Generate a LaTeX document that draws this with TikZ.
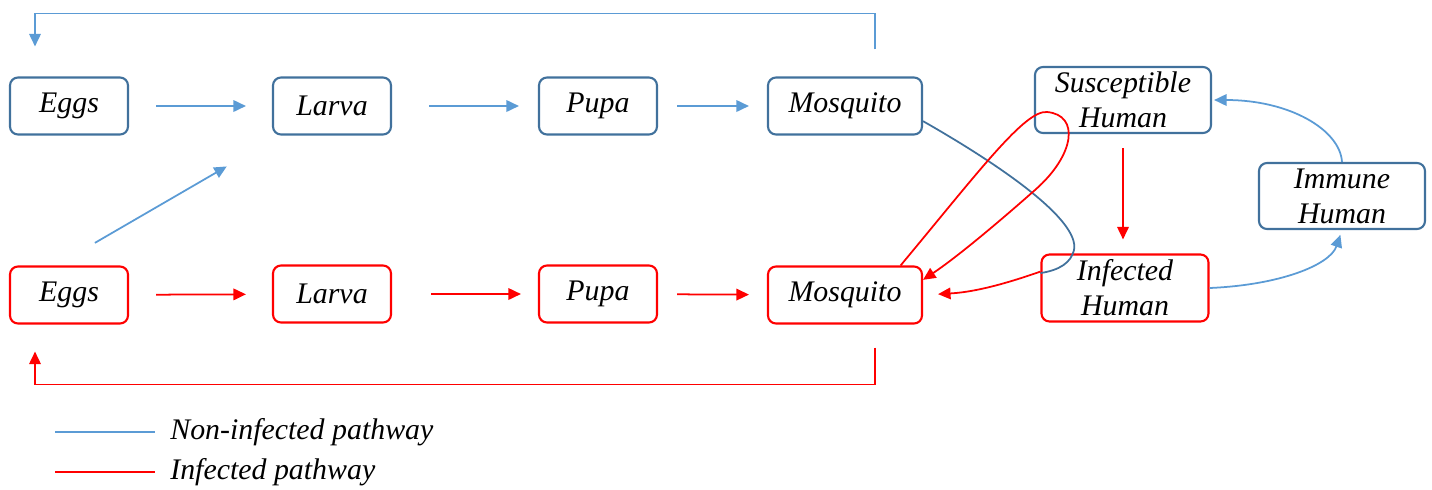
\documentclass[tikz,border=0pt]{standalone}
\usepackage{fontspec}
\setmainfont{Liberation Serif}
\usetikzlibrary{arrows.meta}
\definecolor{boxblue}{RGB}{65,113,156}
\definecolor{lineblue}{RGB}{91,155,213}
\definecolor{infred}{RGB}{255,0,0}
\begin{document}
\begin{tikzpicture}
    \tikzset{stage/.style = {draw=boxblue,line width=1.2pt,rounded corners=0.16cm,minimum width=2.36cm,minimum height=1.14cm,inner sep=0pt,align=center,font=\fontsize{17}{20}\selectfont\itshape},
    infstage/.style = {stage,draw=infred},
    flow/.style = {draw=lineblue,line width=1pt,-{Triangle[length=0.25cm,width=0.23cm]}},
    infflow/.style = {flow,draw=infred},
    legendtext/.style = {anchor=west,inner sep=0pt,font=\fontsize{17}{20}\selectfont\itshape}}
    \useasboundingbox (0,0) rectangle (28.64,-9.78);
    \def\yt{-2.12}
    \def\yb{-5.9}
     \node[stage] (ET) at (1.38,\yt) {Eggs};
     \node[stage] (LT) at (6.64,\yt) {Larva};
     \node[stage] (PT) at (11.96,\yt) {Pupa};
     \node[stage,minimum width=3.08cm] (MT) at (16.9,\yt) {Mosquito};
     \node[infstage] (EB) at (1.38,\yb) {Eggs};
     \node[infstage] (LB) at (6.64,\yb+0.02) {Larva};
     \node[infstage] (PB) at (11.96,\yb+0.02) {Pupa};
     \node[infstage,minimum width=3.08cm] (MB) at (16.9,\yb) {Mosquito};

     \node[stage,minimum width=3.52cm,minimum height=1.32cm] (SH) at (22.46,-2.0) {Susceptible\\Human};
     \node[stage,minimum width=3.32cm,minimum height=1.32cm] (IM) at (26.84,-3.92) {Immune\\Human};
     \node[infstage,minimum width=3.34cm,minimum height=1.34cm] (IH) at (22.5,-5.76) {Infected\\Human};

    \draw[flow,shorten <=0.54cm,shorten >=0.52cm](ET) --(LT);
    \draw[flow,shorten <=0.74cm,shorten >=0.38cm](LT) --(PT);
    \draw[flow,shorten <=0.38cm,shorten >=0.36cm](PT) --(MT);
    \draw[infflow,shorten <=0.54cm,shorten >=0.52cm](EB) --(LB);
    \draw[infflow,shorten <=0.78cm,shorten >=0.34cm](LB) --(PB);
    \draw[infflow,shorten <=0.38cm,shorten >=0.36cm](PB) --(MB);
    \draw[flow,shorten <=0.9cm,shorten >=1.23cm]([xshift=-0.26cm]EB.north) --([xshift=0.16cm]LT.south west);

    \draw[flow,shorten <=0.54cm,shorten >=0.6cm]([xshift=0.6cm]MT.north) -- ++(0,1.26) -| ([xshift=-0.68cm]ET.north);
    \draw[infflow,shorten <=0.46cm,shorten >=0.54cm]([xshift=0.6cm]MB.south) -- ++(0,-1.2) -| ([xshift=-0.68cm]EB.south);

    \draw[draw=boxblue,line width=1pt](MT.-11) .. controls (20.0,-3.3) and (21.6,-4.4) .. (21.48,-5.0) .. controls (21.42,-5.25) and (21.2,-5.4) .. (IH.170);
    \draw[infflow](MB.28) .. controls (19.6,-3.4) and (20.5,-2.2) .. (20.94,-2.24) .. controls (21.6,-2.3) and (21.5,-3.1) .. (20.7,-3.8) .. controls (20.1,-4.33) and (19.2,-5.1) .. (MB.11);
    \draw[infflow,shorten >=0.3cm](IH.169) to[bend left=8] (MB.east);
    \draw[infflow,shorten <=0.28cm,shorten >=0.28cm](SH.south) --(SH.south |- IH.north);
    \draw[flow,shorten >=0.1cm](IH.east) .. controls (25.6,-5.7) and (26.6,-5.3) .. (IM.south);
    \draw[flow,shorten >=0.04cm](IM.north) .. controls (26.8,-2.6) and (25.8,-2.0) .. (SH.east);

    % legend
    \coordinate (K1) at (1.1,-8.64);
    \coordinate (K2) at (1.1,-9.44);
    \node[legendtext] (N1) at (3.4,-8.64) {Non-infected pathway};
    \node[legendtext] (N2) at (3.4,-9.44) {Infected pathway};
    \draw[draw=lineblue,line width=1pt](K1) -- ++(2,0);
    \draw[draw=infred,line width=1pt](K2) -- ++(2,0);
\end{tikzpicture}
\end{document}
